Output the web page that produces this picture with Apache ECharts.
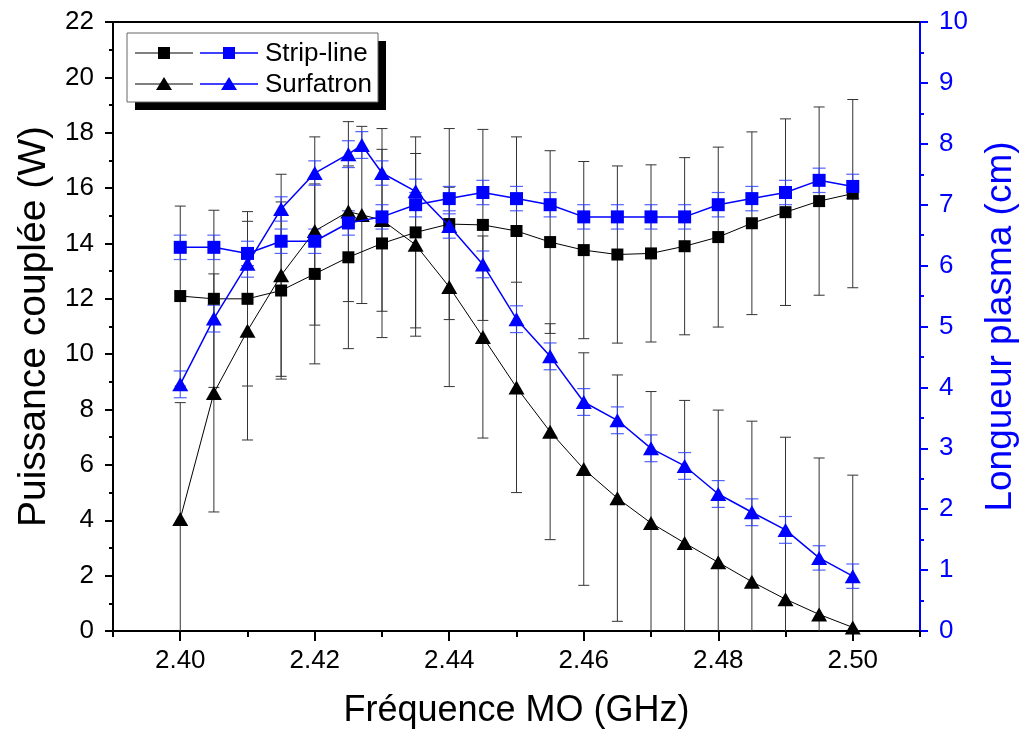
<!DOCTYPE html>
<html>
<head>
<meta charset="utf-8">
<script src="https://cdn.jsdelivr.net/npm/echarts@6/dist/echarts.min.js"></script>
<style>
html,body{margin:0;padding:0;background:#fff;}
#chart{width:1019px;height:735px;}
</style>
</head>
<body>
<div id="chart"></div>
<script>
// ---- Data ----
const freqStrip = [2.400, 2.405, 2.410, 2.415, 2.420, 2.425, 2.430, 2.435, 2.440, 2.445, 2.450, 2.455, 2.460, 2.465, 2.470, 2.475, 2.480, 2.485, 2.490, 2.495, 2.500];
const freqSurf  = [2.400, 2.405, 2.410, 2.415, 2.420, 2.425, 2.427, 2.430, 2.435, 2.440, 2.445, 2.450, 2.455, 2.460, 2.465, 2.470, 2.475, 2.480, 2.485, 2.490, 2.495, 2.500];

// Puissance couplée (W) - left axis
const powerStrip    = [12.1, 12.0, 12.0, 12.3, 12.9, 13.5, 14.0, 14.4, 14.7, 14.67, 14.45, 14.05, 13.76, 13.6, 13.64, 13.9, 14.23, 14.73, 15.13, 15.53, 15.8];
const powerStripErr = [3.25, 3.2, 3.15, 3.2, 3.25, 3.3, 3.4, 3.45, 3.45, 3.45, 3.4, 3.3, 3.2, 3.2, 3.2, 3.2, 3.25, 3.3, 3.37, 3.4, 3.4];
const powerSurf     = [4.05, 8.6, 10.85, 12.85, 14.45, 15.15, 15.03, 14.85, 13.95, 12.43, 10.62, 8.8, 7.2, 5.85, 4.8, 3.9, 3.18, 2.48, 1.78, 1.15, 0.6, 0.13];
const powerSurfErr  = [4.2, 4.3, 3.95, 3.65, 3.4, 3.25, 3.2, 3.3, 3.3, 3.6, 3.65, 3.8, 3.9, 4.2, 4.45, 4.75, 5.15, 5.5, 5.8, 5.85, 5.65, 5.5];

// Longueur plasma (cm) - right axis
const lengthStrip    = [6.3, 6.3, 6.2, 6.4, 6.4, 6.7, 6.8, 7.0, 7.1, 7.2, 7.1, 7.0, 6.8, 6.8, 6.8, 6.8, 7.0, 7.1, 7.2, 7.4, 7.3];
const lengthStripErr = [0.2, 0.2, 0.2, 0.2, 0.2, 0.2, 0.2, 0.2, 0.2, 0.2, 0.2, 0.2, 0.2, 0.2, 0.2, 0.2, 0.2, 0.2, 0.2, 0.2, 0.2];
const lengthSurf     = [4.05, 5.13, 6.03, 6.93, 7.52, 7.83, 7.98, 7.52, 7.22, 6.65, 6.02, 5.12, 4.51, 3.76, 3.46, 3.0, 2.71, 2.25, 1.95, 1.66, 1.2, 0.9];
const lengthSurfErr  = [0.22, 0.22, 0.22, 0.2, 0.2, 0.22, 0.22, 0.2, 0.2, 0.2, 0.22, 0.22, 0.22, 0.22, 0.22, 0.22, 0.22, 0.22, 0.22, 0.22, 0.2, 0.2];

// Ticks
const xMajorTicks = [2.40, 2.42, 2.44, 2.46, 2.48, 2.50];
const xMinorTicks = [2.39, 2.41, 2.43, 2.45, 2.47, 2.49, 2.51];

const seriesNames = ['Strip-line', 'Surfatron'];
const xTitle = 'Fréquence MO (GHz)';
const yLeftTitle = 'Puissance couplée (W)';
const yRightTitle = 'Longueur plasma (cm)';

// ---- Chart ----
const FONT = "'Liberation Sans', Arial, sans-serif";
const BLUE = '#0000ff';
const chart = echarts.init(document.getElementById('chart'), null, {renderer: 'canvas'});

function pts(xs, ys) { return xs.map((x, i) => [x, ys[i]]); }
function errData(xs, ys, es) { return xs.map((x, i) => [x, ys[i] - es[i], ys[i] + es[i]]); }

function errorBar(color, capHalf, lw) {
  return function (params, api) {
    const x = api.value(0);
    const lo = api.coord([x, api.value(1)]);
    const hi = api.coord([x, api.value(2)]);
    const cs = params.coordSys;
    const bottom = cs.y + cs.height, top = cs.y;
    const children = [];
    let yLo = lo[1], yHi = hi[1];
    const loClipped = yLo > bottom, hiClipped = yHi < top;
    yLo = Math.min(yLo, bottom); yHi = Math.max(yHi, top);
    const style = {stroke: color, lineWidth: lw, fill: null};
    children.push({type: 'line', shape: {x1: lo[0], y1: yLo, x2: hi[0], y2: yHi}, style: style});
    if (!loClipped) children.push({type: 'line', shape: {x1: lo[0] - capHalf, y1: yLo, x2: lo[0] + capHalf, y2: yLo}, style: style});
    if (!hiClipped) children.push({type: 'line', shape: {x1: hi[0] - capHalf, y1: yHi, x2: hi[0] + capHalf, y2: yHi}, style: style});
    return {type: 'group', children: children};
  };
}

const tickLabel = {fontFamily: FONT, fontSize: 26, color: '#000'};

// Legend graphic
const lgX = 127, lgY = 33, lgW = 251, lgH = 69;
const row1 = 53, row2 = 84;
function legendRow(y, isTri, label) {
  const els = [];
  els.push({type: 'line', shape: {x1: 135, y1: y, x2: 193, y2: y}, style: {stroke: '#000', lineWidth: 1}});
  els.push({type: 'line', shape: {x1: 200, y1: y, x2: 258, y2: y}, style: {stroke: BLUE, lineWidth: 1.5}});
  [[164, '#000'], [229, BLUE]].forEach(([cx, c]) => {
    if (isTri) {
      els.push({type: 'polygon', shape: {points: [[cx, y - 7], [cx + 8, y + 6], [cx - 8, y + 6]]}, style: {fill: c}});
    } else {
      els.push({type: 'rect', shape: {x: cx - 6, y: y - 6, width: 12, height: 12}, style: {fill: c}});
    }
  });
  els.push({type: 'text', style: {x: 265, y: y + 1, text: label, font: '26px ' + FONT, fill: '#000', verticalAlign: 'middle', align: 'left'}});
  return els;
}

const option = {
  backgroundColor: '#fff',
  animation: false,
  grid: {left: 113, right: 99, top: 22, bottom: 104, containLabel: false, outerBoundsMode: 'none'},
  xAxis: [
    {
      type: 'value', min: 2.39, max: 2.51, position: 'bottom',
      name: xTitle, nameLocation: 'middle', nameGap: 62,
      nameTextStyle: {fontFamily: FONT, fontSize: 36, color: '#000'},
      axisLine: {onZero: false, lineStyle: {color: '#000', width: 2}},
      axisTick: {show: true, inside: false, length: 10, customValues: xMajorTicks, lineStyle: {color: '#000', width: 2}},
      axisLabel: Object.assign({customValues: xMajorTicks, margin: 17, formatter: v => v.toFixed(2)}, tickLabel),
      splitLine: {show: false}
    },
    {
      type: 'value', min: 2.39, max: 2.51, position: 'bottom',
      axisLine: {show: false, onZero: false},
      axisTick: {show: true, inside: false, length: 6, customValues: xMinorTicks, lineStyle: {color: '#000', width: 2}},
      axisLabel: {show: false},
      splitLine: {show: false}
    },
    {
      type: 'value', min: 2.39, max: 2.51, position: 'top',
      axisLine: {show: true, onZero: false, lineStyle: {color: '#000', width: 2}},
      axisTick: {show: false}, axisLabel: {show: false}, splitLine: {show: false}
    }
  ],
  yAxis: [
    {
      type: 'value', min: 0, max: 22, interval: 2, position: 'left',
      name: yLeftTitle, nameLocation: 'middle', nameGap: 57, nameRotate: 90,
      nameTextStyle: {fontFamily: FONT, fontSize: 39, color: '#000'},
      axisLine: {show: true, onZero: false, lineStyle: {color: '#000', width: 2}},
      axisTick: {show: true, inside: false, length: 8, lineStyle: {color: '#000', width: 2}},
      minorTick: {show: true, splitNumber: 2, length: 4, lineStyle: {color: '#000', width: 2}},
      axisLabel: Object.assign({margin: 19}, tickLabel),
      splitLine: {show: false}
    },
    {
      type: 'value', min: 0, max: 10, interval: 1, position: 'right',
      name: yRightTitle, nameLocation: 'middle', nameGap: 62, nameRotate: 90,
      nameTextStyle: {fontFamily: FONT, fontSize: 37, color: BLUE},
      axisLine: {show: true, onZero: false, lineStyle: {color: BLUE, width: 2}},
      axisTick: {show: true, inside: false, length: 8, lineStyle: {color: BLUE, width: 2}},
      minorTick: {show: true, splitNumber: 2, length: 4, lineStyle: {color: BLUE, width: 2}},
      axisLabel: Object.assign({margin: 19}, tickLabel, {color: BLUE}),
      splitLine: {show: false}
    }
  ],
  series: [
    {type: 'custom', name: 'errPowerStrip', xAxisIndex: 0, yAxisIndex: 0, z: 1, silent: true,
     renderItem: errorBar('#333', 5.5, 1), data: errData(freqStrip, powerStrip, powerStripErr), encode: {x: 0, y: [1, 2]}},
    {type: 'custom', name: 'errPowerSurf', xAxisIndex: 0, yAxisIndex: 0, z: 1, silent: true,
     renderItem: errorBar('#333', 5.5, 1), data: errData(freqSurf, powerSurf, powerSurfErr), encode: {x: 0, y: [1, 2]}},
    {type: 'custom', name: 'errLengthStrip', xAxisIndex: 0, yAxisIndex: 1, z: 1, silent: true,
     renderItem: errorBar('rgba(40,60,255,0.8)', 6.5, 1.2), data: errData(freqStrip, lengthStrip, lengthStripErr), encode: {x: 0, y: [1, 2]}},
    {type: 'custom', name: 'errLengthSurf', xAxisIndex: 0, yAxisIndex: 1, z: 1, silent: true,
     renderItem: errorBar('rgba(40,60,255,0.8)', 6.5, 1.2), data: errData(freqSurf, lengthSurf, lengthSurfErr), encode: {x: 0, y: [1, 2]}},
    {type: 'line', name: seriesNames[0] + ' P', xAxisIndex: 0, yAxisIndex: 0, z: 3,
     data: pts(freqStrip, powerStrip), symbol: 'rect', symbolSize: 12,
     itemStyle: {color: '#000'}, lineStyle: {color: '#000', width: 1}},
    {type: 'line', name: seriesNames[1] + ' P', xAxisIndex: 0, yAxisIndex: 0, z: 3,
     data: pts(freqSurf, powerSurf), symbol: 'triangle', symbolSize: [16, 14],
     itemStyle: {color: '#000'}, lineStyle: {color: '#000', width: 1}},
    {type: 'line', name: seriesNames[0] + ' L', xAxisIndex: 0, yAxisIndex: 1, z: 4,
     data: pts(freqStrip, lengthStrip), symbol: 'rect', symbolSize: 13,
     itemStyle: {color: BLUE}, lineStyle: {color: BLUE, width: 1.5}},
    {type: 'line', name: seriesNames[1] + ' L', xAxisIndex: 0, yAxisIndex: 1, z: 4,
     data: pts(freqSurf, lengthSurf), symbol: 'triangle', symbolSize: [16, 14],
     itemStyle: {color: BLUE}, lineStyle: {color: BLUE, width: 1.5}}
  ],
  graphic: [
    {type: 'group', z: 100, children: [
      {type: 'rect', shape: {x: lgX + 8, y: lgY + 8, width: lgW, height: lgH}, style: {fill: '#000'}},
      {type: 'rect', shape: {x: lgX, y: lgY, width: lgW, height: lgH}, style: {fill: '#fff', stroke: '#666', lineWidth: 1}}
    ].concat(legendRow(row1, false, seriesNames[0])).concat(legendRow(row2, true, seriesNames[1]))}
  ]
};
chart.setOption(option);
</script>
</body>
</html>
